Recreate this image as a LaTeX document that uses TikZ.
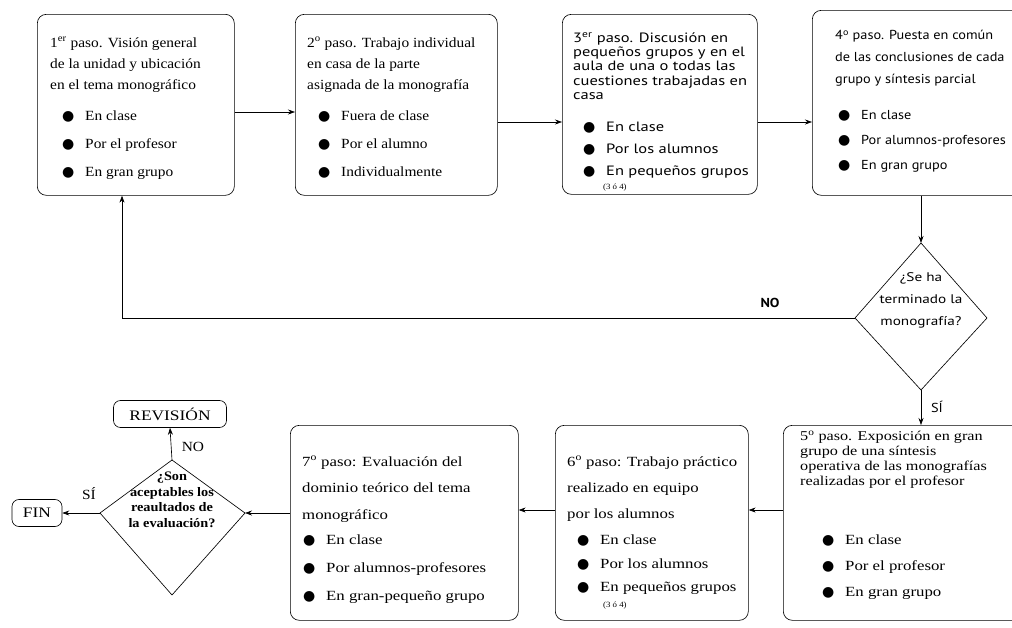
\documentclass[tikz,border=0pt]{standalone}
\usepackage{fontspec}
\setmainfont{Liberation Serif}[FakeStretch=1.1]
\newfontfamily\serifw{Liberation Serif}[FakeStretch=1.2]
\newfontfamily\sansf{PT Sans}[FakeStretch=1.1]
\newfontfamily\sansw{PT Sans}[FakeStretch=1.22]
\newfontfamily\dejavu{DejaVu Sans}
\usetikzlibrary{arrows.meta}
\newcommand\bul{\makebox[23pt][l]{\raisebox{0.2pt}{\dejavu\fontsize{14}{14}\selectfont ●}}}
\begin{document}
\begin{tikzpicture}[x=1pt,y=-1pt,
  stepbox/.style={draw, line width=0.65pt, rounded corners=9pt, anchor=north west, inner sep=0pt},
  head/.style={anchor=north west, align=left, inner sep=0pt, font=\fontsize{14}{21}\selectfont},
  heads/.style={anchor=north west, align=left, inner sep=0pt, font=\sansw\fontsize{13.5}{14.3}\selectfont},
  blist/.style={anchor=north west, align=left, inner sep=0pt, font=\fontsize{14}{28}\selectfont},
  small/.style={anchor=north west, inner sep=0pt, font=\fontsize{8}{9}\selectfont},
  term/.style={draw, line width=0.65pt, rounded corners=7pt, inner sep=0pt, font=\serifw\fontsize{14.5}{16}\selectfont},
  lab/.style={inner sep=0pt, font=\fontsize{14}{16}\selectfont},
  arr/.style={-{Stealth[length=7pt,width=5pt]}, line width=0.65pt},
  dline/.style={line width=0.65pt, line join=miter}]
\useasboundingbox (0,0) rectangle (1012,627);
\fill[white] (0,0) rectangle (1012,627);

% ---- top row
\node[stepbox, minimum width=197pt, minimum height=181pt] (s1) at (37,14) {};
\node[head] (t1) at (50,37) {1\textsuperscript{er} paso. Visión general\\de la unidad y ubicación\\en el tema monográfico};
\node[blist] (l1) at (62,111) {\bul En clase\\\bul Por el profesor\\\bul En gran grupo};

\node[stepbox, minimum width=202pt, minimum height=181pt] (s2) at (295,14) {};
\node[head] (t2) at (307,37) {2\textsuperscript{o} paso. Trabajo individual\\en casa de la parte\\asignada de la monografía};
\node[blist] (l2) at (318,111) {\bul Fuera de clase\\\bul Por el alumno\\\bul Individualmente};

\node[stepbox, minimum width=195pt, minimum height=180pt] (s3) at (562,14) {};
\node[heads] (t3) at (573,32) {3\textsuperscript{er} paso. Discusión en\\pequeños grupos y en el\\aula de una o todas las\\cuestiones trabajadas en\\casa};
\node[blist, font=\sansw\fontsize{13.5}{22}\selectfont] (l3) at (583,122) {\bul En clase\\\bul Por los alumnos\\\bul En pequeños grupos};
\node[small] (n3) at (603,184) {(3 ó 4)};

\node[stepbox, minimum width=240pt, minimum height=185pt] (s4) at (812,10) {};
\node[heads, font=\sansf\fontsize{13}{22}\selectfont] (t4) at (835,30) {4\textsuperscript{o} paso. Puesta en común\\de las conclusiones de cada\\grupo y síntesis parcial};
\node[blist, font=\sansf\fontsize{13}{25}\selectfont] (l4) at (838,110) {\bul En clase\\\bul Por alumnos-profesores\\\bul En gran grupo};

% ---- decision 1
\coordinate (d1t) at (921,243);
\coordinate (d1r) at (987,318);
\coordinate (d1b) at (921,390);
\coordinate (d1l) at (855,318);
\draw[dline] (d1t) -- (d1r) -- (d1b) -- (d1l) -- cycle;
\node[align=center, inner sep=0pt, font=\sansw\fontsize{12.5}{22}\selectfont] (q1) at (921,300) {¿Se ha\\terminado la\\monografía?};

% ---- bottom row
\node[stepbox, minimum width=250pt, minimum height=195pt] (s5) at (783,425) {};
\node[head, font=\serifw\fontsize{13.5}{14.8}\selectfont] (t5) at (800,431) {5\textsuperscript{o} paso. Exposición en gran\\grupo de una síntesis\\operativa de las monografías\\realizadas por el profesor};
\node[blist, font=\serifw\fontsize{14}{26}\selectfont] (l5) at (822,535) {\bul En clase\\\bul Por el profesor\\\bul En gran grupo};

\node[stepbox, minimum width=193pt, minimum height=195pt] (s6) at (555,425) {};
\node[head, font=\serifw\fontsize{14}{26}\selectfont] (t6) at (567,456) {6\textsuperscript{o} paso: Trabajo práctico\\realizado en equipo\\por los alumnos};
\node[blist, font=\serifw\fontsize{14}{23.5}\selectfont] (l6) at (577,535) {\bul En clase\\\bul Por los alumnos\\\bul En pequeños grupos};
\node[small] (n6) at (603,602) {(3 ó 4)};

\node[stepbox, minimum width=228pt, minimum height=195pt] (s7) at (290,425) {};
\node[head, font=\serifw\fontsize{14}{26.5}\selectfont] (t7) at (302,456) {7\textsuperscript{o} paso: Evaluación del\\dominio teórico del tema\\monográfico};
\node[blist, font=\serifw\fontsize{14}{28}\selectfont] (l7) at (303,535) {\bul En clase\\\bul Por alumnos-profesores\\\bul En gran-pequeño grupo};

% ---- decision 2
\coordinate (d2t) at (172,460);
\coordinate (d2r) at (245,513);
\coordinate (d2b) at (172,595);
\coordinate (d2l) at (100,513);
\draw[dline] (d2t) -- (d2r) -- (d2b) -- (d2l) -- cycle;
\node[align=center, inner sep=0pt, font=\bfseries\fontsize{13}{15.5}\selectfont] (q2) at (172,500) {¿Son\\aceptables los\\reaultados de\\la evaluación?};

\node[term, minimum width=113pt, minimum height=27pt] (rev) at (170,414) {REVISIÓN};
\node[term, minimum width=50pt, minimum height=27pt] (fin) at (37,513) {FIN};

% ---- connectors
\coordinate (ya) at (0,112);
\coordinate (yb) at (0,122);
\coordinate (yc) at (0,510);
\coordinate (xl) at (122,0);
\draw[arr] (s1.east |- ya) -- (s2.west |- ya);
\draw[arr] (s2.east |- yb) -- (s3.west |- yb);
\draw[arr] (s3.east |- yb) -- (s4.west |- yb);
\draw[arr] (s4.south -| d1t) -- (d1t);
\draw[arr] (d1b) -- (s5.north -| d1b);
\node[lab, font=\sansf\fontsize{13}{15}\selectfont] (si1) at (937,407) {SÍ};
\draw[arr] (d1l) -| (xl |- s1.south);
\node[lab, font=\sansf\bfseries\fontsize{13}{15}\selectfont] (no1) at (770,303) {NO};
\draw[arr] (s5.west |- yc) -- (s6.east |- yc);
\draw[arr] (s6.west |- yc) -- (s7.east |- yc);
\draw[arr] (s7.west |- d2r) -- (d2r);
\draw[arr] (d2l) -- (fin.east);
\node[lab] (si2) at (89,494) {SÍ};
\draw[arr] (d2t) -- (rev.south);
\node[lab] (no2) at (193,447) {NO};
\end{tikzpicture}
\end{document}
